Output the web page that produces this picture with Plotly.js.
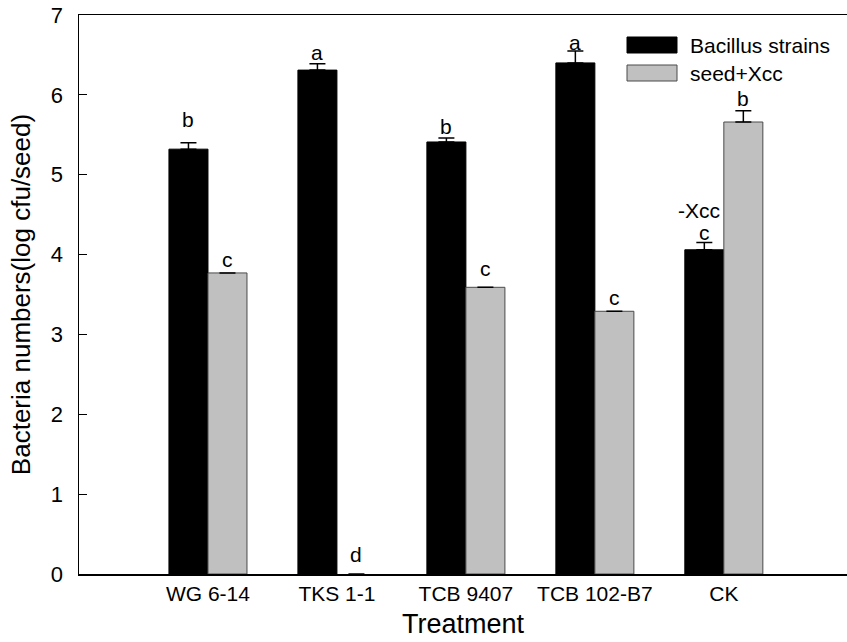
<!DOCTYPE html>
<html>
<head>
<meta charset="utf-8">
<script src="https://cdn.plot.ly/plotly-3.0.1.min.js"></script>
<style>html,body{margin:0;padding:0;background:#fff;}#chart{width:847px;height:642px;}</style>
</head>
<body>
<div id="chart"></div>
<script>
const categories = ["WG 6-14", "TKS 1-1", "TCB 9407", "TCB 102-B7", "CK"];
const seriesNames = ["Bacillus strains", "seed+Xcc"];
const bacillusValues = [5.32, 6.31, 5.41, 6.40, 4.06];
const bacillusErrors = [0.08, 0.08, 0.05, 0.15, 0.09];
const xccValues = [3.77, 0, 3.59, 3.29, 5.66];
const xccErrors = [0, 0, 0, 0, 0.14];
const bacillusLetters = ["b", "a", "b", "a", "c"];
const xccLetters = ["c", "d", "c", "c", "b"];
const extraLabel = "-Xcc";

// styling: extra vertical shift (px) for each letter label
const bacShift = [10, -2, -2, -5, -3];
const xccShift = [0, 6, 5, 0, -1];

const FONT = "Liberation Sans, Arial, sans-serif";
const BW = 0.605 / 2; // bar width in category units

const noZero = a => a.map(v => (v > 0 ? v : NaN));

const traces = [
  {
    type: "bar", name: seriesNames[0], x: categories, y: bacillusValues,
    marker: {color: "#000000", line: {color: "#000000", width: 1}},
    error_y: {type: "data", symmetric: false, array: noZero(bacillusErrors),
              arrayminus: bacillusErrors.map(() => 0), color: "#000000", thickness: 1.5, width: 8},
    showlegend: false
  },
  {
    type: "bar", name: seriesNames[1], x: categories, y: xccValues,
    marker: {color: "#c0c0c0", line: {color: "#4a4a4a", width: xccValues.map(v => (v > 0 ? 1 : 0))}},
    error_y: {type: "data", symmetric: false, array: noZero(xccErrors),
              arrayminus: xccErrors.map(() => 0), color: "#000000", thickness: 1.5, width: 8},
    showlegend: false
  }
];

const annotations = [];
categories.forEach((c, i) => {
  annotations.push({
    x: i - BW / 2, y: bacillusValues[i] + bacillusErrors[i], xref: "x", yref: "y",
    text: bacillusLetters[i], showarrow: false, yanchor: "bottom", yshift: bacShift[i],
    font: {family: FONT, size: 21, color: "#000"}
  });
  annotations.push({
    x: i + BW / 2, y: xccValues[i] + xccErrors[i], xref: "x", yref: "y",
    text: xccLetters[i], showarrow: false, yanchor: "bottom", yshift: xccShift[i],
    font: {family: FONT, size: 21, color: "#000"}
  });
});
annotations.push({
  x: 4 - BW / 2, y: bacillusValues[4] + bacillusErrors[4], xref: "x", yref: "y",
  text: extraLabel, showarrow: false, yanchor: "bottom", yshift: 19, xshift: -5,
  font: {family: FONT, size: 21, color: "#000"}
});

// legend (drawn manually to match the wide swatches)
const L = 79, W = 768, T = 15, H = 559;
const px = v => (v - L) / W;
const py = v => (T + H - v) / H;
const shapes = [
  {type: "rect", xref: "paper", yref: "paper", x0: px(627), x1: px(677), y0: py(53), y1: py(37),
   fillcolor: "#000000", line: {color: "#000000", width: 1}},
  {type: "rect", xref: "paper", yref: "paper", x0: px(627), x1: px(677), y0: py(81), y1: py(65),
   fillcolor: "#c0c0c0", line: {color: "#4a4a4a", width: 1}}
];
annotations.push({xref: "paper", yref: "paper", x: px(688), y: py(45), xanchor: "left", yanchor: "middle",
  text: seriesNames[0], showarrow: false, font: {family: FONT, size: 21, color: "#000"}});
annotations.push({xref: "paper", yref: "paper", x: px(688), y: py(73), xanchor: "left", yanchor: "middle",
  text: seriesNames[1], showarrow: false, font: {family: FONT, size: 21, color: "#000"}});

const layout = {
  width: 847, height: 642,
  margin: {l: L, r: 847 - L - W, t: T, b: 642 - T - H, pad: 0},
  paper_bgcolor: "#fff", plot_bgcolor: "#fff",
  barmode: "group", bargap: 0.395, bargroupgap: 0,
  font: {family: FONT, color: "#000"},
  xaxis: {
    type: "category", range: [-1, 4.955], showline: true, mirror: true, linecolor: "#000", linewidth: 1.5,
    ticks: "", showgrid: false, zeroline: false,
    tickfont: {family: FONT, size: 21, color: "#000"},
    title: {text: "Treatment", font: {family: FONT, size: 27, color: "#000"}, standoff: 10}
  },
  yaxis: {
    range: [0, 7], dtick: 1, showline: true, linecolor: "#000", linewidth: 1.5,
    ticks: "inside", ticklen: 8, tickwidth: 1, tickcolor: "#000",
    showgrid: false, zeroline: false, ticklabelstandoff: 10,
    tickfont: {family: FONT, size: 22, color: "#000"},
    title: {text: "Bacteria numbers(log cfu/seed)", font: {family: FONT, size: 26, color: "#000"}, standoff: 12}
  },
  annotations: annotations,
  shapes: shapes,
  showlegend: false
};

Plotly.newPlot("chart", traces, layout, {displayModeBar: false, staticPlot: true});
</script>
</body>
</html>
